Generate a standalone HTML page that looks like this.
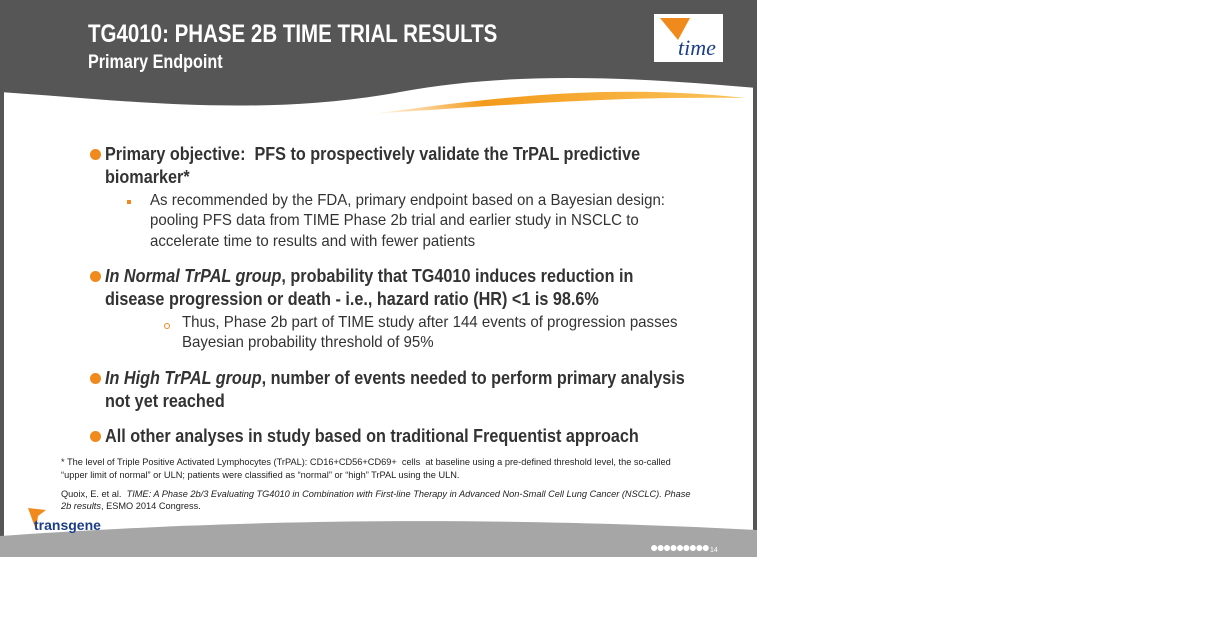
<!DOCTYPE html>
<html><head><meta charset="utf-8"><style>
body{margin:0;width:1209px;height:636px;background:#fff;overflow:hidden;font-family:"Liberation Sans",sans-serif}
#s{position:absolute;left:0;top:0;width:757px;height:557px;background:#fff;overflow:hidden}
.t{position:absolute;white-space:nowrap;transform:scaleX(0.9);transform-origin:0 0;color:#333}
.b{font-weight:bold;font-size:18px}
.n{font-size:16px;transform:scaleX(0.94)}
.f{font-size:9.5px;color:#222;transform:scaleX(0.97)}
.dot{position:absolute;width:11px;height:11px;border-radius:50%;background:#f08a1c}
</style></head><body>
<div id="s">
<svg width="757" height="557" style="position:absolute;left:0;top:0">
<defs><linearGradient id="o" x1="0" x2="1"><stop offset="0" stop-color="#f7a020" stop-opacity="0"/><stop offset="0.3" stop-color="#f39a1a"/><stop offset="1" stop-color="#fbc45c"/></linearGradient></defs>
<path d="M0 0H757V88C640 78 520 70 400 92C260 118 120 100 0 92Z" fill="#565656"/>
<path d="M370 114C480 100 600 82 745 98C620 96 520 104 370 114Z" fill="url(#o)"/>
<rect x="0" y="0" width="4" height="557" fill="#565656"/>
<rect x="753" y="0" width="4" height="557" fill="#565656"/>
<path d="M0 536C200 522 450 514 757 530V557H0Z" fill="#a6a6a6"/>
<rect x="654" y="14" width="69" height="48" fill="#fff"/>
<path d="M660 18L690 18L678 40Z" fill="#f08a1c"/>
<text x="678" y="55" font-family="Liberation Serif" font-style="italic" font-size="22" fill="#1c3e8a">time</text>
<path d="M28 508L46 510L38 516L36 530Z" fill="#f08a1c"/>
</svg>
<div class="t" style="left:88px;top:20px;color:#fff;font-weight:bold;font-size:25px;transform:scaleX(0.82)">TG4010: PHASE 2B TIME TRIAL RESULTS</div>
<div class="t" style="left:88px;top:52px;color:#fff;font-weight:bold;font-size:19px;transform:scaleX(0.85)">Primary Endpoint</div>

<div class="dot" style="left:90px;top:149px"></div>
<div class="t b" style="left:105px;top:144px">Primary objective:&nbsp; PFS to prospectively validate the TrPAL predictive</div>
<div class="t b" style="left:105px;top:167px">biomarker*</div>
<div style="position:absolute;left:127px;top:200px;width:4px;height:4px;background:#f08a1c"></div>
<div class="t n" style="left:150px;top:192px">As recommended by the FDA, primary endpoint based on a Bayesian design:</div>
<div class="t n" style="left:150px;top:212px">pooling PFS data from TIME Phase 2b trial and earlier study in NSCLC to</div>
<div class="t n" style="left:150px;top:233px">accelerate time to results and with fewer patients</div>

<div class="dot" style="left:90px;top:271px"></div>
<div class="t b" style="left:105px;top:266px"><i>In Normal TrPAL group</i>, probability that TG4010 induces reduction in</div>
<div class="t b" style="left:105px;top:289px">disease progression or death - i.e., hazard ratio (HR) &lt;1 is 98.6%</div>
<div style="position:absolute;left:164px;top:323px;width:4px;height:4px;border:1px solid #f08a1c;border-radius:50%"></div>
<div class="t n" style="left:182px;top:314px">Thus, Phase 2b part of TIME study after 144 events of progression passes</div>
<div class="t n" style="left:182px;top:334px">Bayesian probability threshold of 95%</div>

<div class="dot" style="left:90px;top:373px"></div>
<div class="t b" style="left:105px;top:368px"><i>In High TrPAL group</i>, number of events needed to perform primary analysis</div>
<div class="t b" style="left:105px;top:391px">not yet reached</div>

<div class="dot" style="left:90px;top:431px"></div>
<div class="t b" style="left:105px;top:426px">All other analyses in study based on traditional Frequentist approach</div>

<div class="t f" style="left:61px;top:457px">* The level of Triple Positive Activated Lymphocytes (TrPAL): CD16+CD56+CD69+&nbsp; cells&nbsp; at baseline using a pre-defined threshold level, the so-called</div>
<div class="t f" style="left:61px;top:470px">“upper limit of normal” or ULN; patients were classified as “normal” or “high” TrPAL using the ULN.</div>
<div class="t f" style="left:61px;top:489px">Quoix, E. et al.&nbsp; <i>TIME: A Phase 2b/3 Evaluating TG4010 in Combination with First-line Therapy in Advanced Non-Small Cell Lung Cancer (NSCLC). Phase</i></div>
<div class="t f" style="left:61px;top:501px"><i>2b results</i>, ESMO 2014 Congress.</div>
<div class="t" style="left:34px;top:517px;font-size:14px;color:#1c3e8a;font-weight:bold;transform:none">transgene</div>
<div class="t" style="left:650px;top:539px;font-size:14px;color:#fff;letter-spacing:-2px;transform:none">●●●●●●●●● <span style="font-size:7px;letter-spacing:0">14</span></div>
</div>
</body></html>
